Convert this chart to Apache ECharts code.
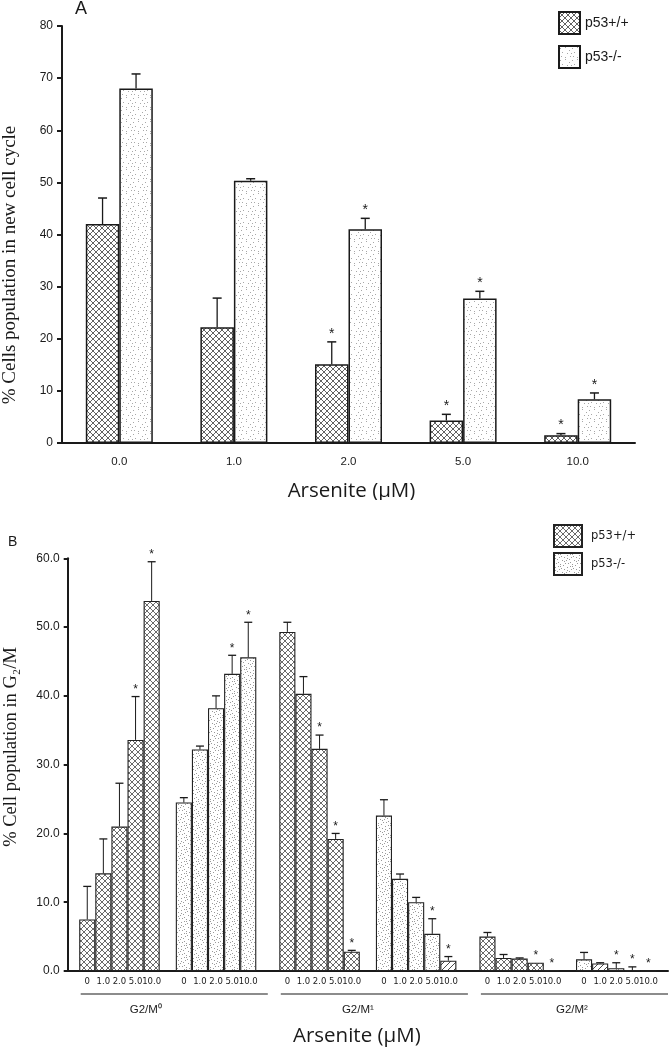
<!DOCTYPE html>
<html><head><meta charset="utf-8">
<script src="https://cdn.jsdelivr.net/npm/echarts@6/dist/echarts.min.js"></script>
<style>
html,body{margin:0;padding:0;background:#fff;}
#a{position:absolute;left:0;top:0;width:669px;height:500px;}
#b{position:absolute;left:0;top:500px;width:669px;height:550px;}
</style>
</head><body><div id="a"></div><div id="b"></div>
<script>
// ---------- Panel A data ----------
const seriesNames = ['p53+/+', 'p53-/-'];
const dosesA = ['0.0', '1.0', '2.0', '5.0', '10.0'];
const wtA = [42.0, 22.2, 15.1, 4.3, 1.5];
const wtErrA = [5.0, 5.6, 4.3, 1.2, 0.3];
const wtSigA = [0, 0, 1, 1, 1];
const nullA = [68.0, 50.3, 41.0, 27.7, 8.4];
const nullErrA = [2.8, 0.4, 2.1, 1.4, 1.2];
const nullSigA = [0, 0, 1, 1, 1];

// ---------- Panel B data ----------
const phasesB = ['G2/M\u2070', 'G2/M\u00B9', 'G2/M\u00B2'];
const dosesB = ['0', '1.0', '2.0', '5.0', '10.0'];
const wtB = [
  [7.5, 14.2, 21.0, 33.6, 53.8],
  [49.3, 40.3, 32.3, 19.2, 2.8],
  [5.0, 1.9, 1.8, 1.2, 0.1]
];
const wtErrB = [
  [4.8, 5.0, 6.3, 6.3, 5.7],
  [1.4, 2.5, 2.0, 0.8, 0.2],
  [0.6, 0.5, 0.1, 0, 0]
];
const wtSigB = [[0,0,0,1,1],[0,0,1,1,1],[0,0,0,1,1]];
const nullB = [
  [24.5, 32.2, 38.2, 43.2, 45.6],
  [22.6, 13.4, 10.0, 5.4, 1.5],
  [1.7, 1.1, 0.4, 0.1, 0]
];
const nullErrB = [
  [0.7, 0.5, 1.8, 2.7, 5.1],
  [2.3, 0.7, 0.7, 2.2, 0.6],
  [1.0, 0.1, 0.8, 0.5, 0]
];
const nullSigB = [[0,0,0,1,1],[0,0,0,1,1],[0,0,1,1,1]];
const diagHatched = [[1, 4], [2, 1]]; // [phase, dose] bars drawn with single hatch

// ---------- patterns ----------
function crossTile(size, color, lw) {
  const c = document.createElement('canvas'); c.width = c.height = size;
  const g = c.getContext('2d'); g.fillStyle = '#fff'; g.fillRect(0, 0, size, size);
  g.strokeStyle = color; g.lineWidth = lw; g.beginPath();
  g.moveTo(-1, -1); g.lineTo(size + 1, size + 1);
  g.moveTo(size + 1, -1); g.lineTo(-1, size + 1);
  g.stroke(); return c;
}
function diagTile(size, color, lw) {
  const c = document.createElement('canvas'); c.width = c.height = size;
  const g = c.getContext('2d'); g.fillStyle = '#fff'; g.fillRect(0, 0, size, size);
  g.strokeStyle = color; g.lineWidth = lw; g.beginPath();
  g.moveTo(size + 1, -1); g.lineTo(-1, size + 1);
  g.stroke(); return c;
}
function dotTile(size, pts, color) {
  const c = document.createElement('canvas'); c.width = c.height = size;
  const g = c.getContext('2d'); g.fillStyle = '#fff'; g.fillRect(0, 0, size, size);
  g.fillStyle = color; pts.forEach(p => g.fillRect(p[0], p[1], 1, 1)); return c;
}
const dotPts = [[1,2],[6,1],[10,4],[3,6],[8,7],[11,10],[2,10],[6,11],[0,7],[5,4],[9,0],[4,9]];
const crossA = { image: crossTile(6, '#3a3a3a', 0.8), repeat: 'repeat' };
const dotsA = { image: dotTile(12, dotPts.slice(0, 9), '#a8a8a8'), repeat: 'repeat' };
const crossB = { image: crossTile(6, '#3a3a3a', 0.75), repeat: 'repeat' };
const dotsB = { image: dotTile(12, dotPts.concat([[7,3],[1,5],[10,8],[4,1]]), '#9a9a9a'), repeat: 'repeat' };
const diagB = { image: diagTile(6, '#333', 0.9), repeat: 'repeat' };

const ink = '#1a1a1a';

// ---------- Panel A ----------
const barWA = 33.5, capA = 9;
function errSeriesA(vals, errs, sigs, side) {
  return {
    type: 'custom', z: 5, silent: true,
    data: vals.map((v, i) => [i, v, errs[i], sigs[i]]),
    renderItem: function (params, api) {
      const i = api.value(0), v = api.value(1), e = api.value(2), s = api.value(3);
      const b = api.coord([i, v]), t = api.coord([i, v + e]);
      const x = b[0] + side * barWA / 2;
      const ch = [];
      if (e > 0) {
        ch.push({ type: 'line', shape: { x1: x, y1: b[1], x2: x, y2: t[1] }, style: { stroke: ink, lineWidth: 1.3 } });
        ch.push({ type: 'line', shape: { x1: x - capA / 2, y1: t[1], x2: x + capA / 2, y2: t[1] }, style: { stroke: ink, lineWidth: 1.5 } });
      }
      if (s) ch.push({ type: 'text', x: x, y: t[1] - 1, style: { text: '*', fontSize: 14, fontFamily: 'Liberation Sans', fill: ink, align: 'center', verticalAlign: 'bottom' } });
      return { type: 'group', children: ch };
    }
  };
}
const chartA = echarts.init(document.getElementById('a'), null, { renderer: 'canvas' });
chartA.setOption({
  animation: false,
  backgroundColor: '#fff',
  title: { text: 'A', left: 75, top: 0, padding: 0, textStyle: { fontSize: 18, fontWeight: 'normal', fontFamily: 'Liberation Sans', color: ink } },
  legend: {
    data: seriesNames, orient: 'vertical', left: 558, top: 11, padding: 0,
    itemWidth: 21, itemHeight: 22, itemGap: 10, icon: 'rect', selectedMode: false,
    textStyle: { fontSize: 14, fontFamily: 'Liberation Sans', color: ink }
  },
  grid: { left: 62, top: 26, width: 573, height: 417, containLabel: false, outerBoundsMode: 'none' },
  xAxis: {
    type: 'category', data: dosesA,
    axisLine: { lineStyle: { color: ink, width: 2 } },
    axisTick: { alignWithLabel: false, length: 5, lineStyle: { color: ink, width: 2 } },
    axisLabel: { margin: 13, fontSize: 11.5, fontFamily: 'Liberation Sans', color: ink },
    name: 'Arsenite (\u03BCM)', nameLocation: 'middle', nameGap: 38,
    nameTextStyle: { fontSize: 20.5, fontFamily: 'Open Sans', color: ink, padding: [0, 0, 0, 6] }
  },
  yAxis: {
    type: 'value', min: 0, max: 80, interval: 10,
    axisLine: { show: true, lineStyle: { color: ink, width: 2 } },
    axisTick: { show: true, length: 5, lineStyle: { color: ink, width: 2 } },
    axisLabel: { margin: 9, fontSize: 12, fontFamily: 'Liberation Sans', color: ink },
    splitLine: { show: false }
  },
  graphic: [{
    type: 'text', x: 10, y: 265, rotation: Math.PI / 2,
    style: { text: '% Cells population in new cell cycle', fontSize: 19, fontFamily: 'Liberation Serif', fill: ink, align: 'center', verticalAlign: 'middle' }
  }],
  series: [
    { name: seriesNames[0], type: 'bar', data: wtA, barWidth: barWA, barGap: '0%',
      itemStyle: { color: crossA, borderColor: ink, borderWidth: 1.5 } },
    { name: seriesNames[1], type: 'bar', data: nullA, barWidth: barWA, barGap: '0%',
      itemStyle: { color: dotsA, borderColor: ink, borderWidth: 1.5 } },
    errSeriesA(wtA, wtErrA, wtSigA, -1),
    errSeriesA(nullA, nullErrA, nullSigA, 1)
  ]
});

// ---------- Panel B ----------
const barWB = 16.1, capB = 8;
function errSeriesB(vals, errs, sigs, slotOffset) {
  const data = [];
  vals.forEach((row, p) => row.forEach((v, d) => data.push([p, v, errs[p][d], sigs[p][d], slotOffset + d])));
  return {
    type: 'custom', z: 5, silent: true, data: data,
    renderItem: function (params, api) {
      const p = api.value(0), v = api.value(1), e = api.value(2), s = api.value(3), slot = api.value(4);
      const b = api.coord([p, v]), t = api.coord([p, v + e]);
      const x = b[0] + (slot - 5) * barWB;
      const ch = [];
      if (e > 0) {
        ch.push({ type: 'line', shape: { x1: x, y1: b[1], x2: x, y2: t[1] }, style: { stroke: ink, lineWidth: 1 } });
        ch.push({ type: 'line', shape: { x1: x - capB / 2, y1: t[1], x2: x + capB / 2, y2: t[1] }, style: { stroke: ink, lineWidth: 1.3 } });
      }
      if (s) ch.push({ type: 'text', x: x, y: t[1] - 1, style: { text: '*', fontSize: 12, fontFamily: 'Liberation Sans', fill: ink, align: 'center', verticalAlign: 'bottom' } });
      return { type: 'group', children: ch };
    }
  };
}
function barSeriesB(name, vals, d, fill) {
  return {
    name: name, type: 'bar', barWidth: barWB, barGap: '0%',
    data: vals.map((row, p) => {
      const hatched = diagHatched.some(h => h[0] === p && h[1] === d) && fill === dotsB;
      return hatched ? { value: row[d], itemStyle: { color: diagB } } : row[d];
    }),
    itemStyle: { color: fill, borderColor: '#222', borderWidth: 1.1 },
    label: { show: true, position: 'bottom', distance: 6, formatter: dosesB[d], fontSize: 8.5, fontFamily: 'DejaVu Sans', color: ink }
  };
}
const seriesB = [];
for (let d = 0; d < 5; d++) seriesB.push(barSeriesB(seriesNames[0], wtB, d, crossB));
seriesB.push({ name: 'spacer', type: 'bar', barWidth: barWB, barGap: '0%', data: phasesB.map(() => '-') });
for (let d = 0; d < 5; d++) seriesB.push(barSeriesB(seriesNames[1], nullB, d, dotsB));
seriesB.push(errSeriesB(wtB, wtErrB, wtSigB, 0));
seriesB.push(errSeriesB(nullB, nullErrB, nullSigB, 6));

const chartB = echarts.init(document.getElementById('b'), null, { renderer: 'canvas' });
chartB.setOption({
  animation: false,
  backgroundColor: '#fff',
  title: { text: 'B', left: 8, top: 35, padding: 0, textStyle: { fontSize: 14, fontWeight: 'normal', fontFamily: 'Liberation Sans', color: ink } },
  legend: {
    data: seriesNames, orient: 'vertical', left: 553, top: 24, padding: 0,
    itemWidth: 28, itemHeight: 22, itemGap: 4, icon: 'rect', selectedMode: false,
    textStyle: { fontSize: 11.5, fontFamily: 'DejaVu Sans', color: ink, padding: [0, 0, 0, 4] }
  },
  grid: { left: 67.7, top: 58.3, width: 600.3, height: 412.7, containLabel: false, outerBoundsMode: 'none' },
  xAxis: {
    type: 'category', data: phasesB,
    axisLine: { lineStyle: { color: ink, width: 2 } },
    axisTick: { alignWithLabel: false, length: 4, lineStyle: { color: ink, width: 2 } },
    axisLabel: { show: false },
    name: 'Arsenite (\u03BCM)', nameLocation: 'middle', nameGap: 55,
    nameTextStyle: { fontSize: 20.5, fontFamily: 'Open Sans', color: ink, padding: [0, 22, 0, 0] }
  },
  yAxis: {
    type: 'value', min: 0, max: 60, interval: 10,
    axisLine: { show: true, lineStyle: { color: ink, width: 2 } },
    axisTick: { show: true, length: 4, lineStyle: { color: ink, width: 2 } },
    axisLabel: { margin: 8, fontSize: 12, fontFamily: 'Liberation Sans', color: ink, formatter: v => v.toFixed(1) },
    splitLine: { show: false }
  },
  series: seriesB
});

// group underlines and labels, placed through the category scale
(function () {
  const labelShift = [-22, -10, 4];
  const c0 = chartB.convertToPixel({ xAxisIndex: 0 }, 0);
  const c1 = chartB.convertToPixel({ xAxisIndex: 0 }, 1);
  const band = c1 - c0;
  const axisY = chartB.convertToPixel({ yAxisIndex: 0 }, 0);
  const g = [];
  phasesB.forEach((name, i) => {
    const cx = chartB.convertToPixel({ xAxisIndex: 0 }, i);
    g.push({ type: 'line', shape: { x1: cx - band / 2 + 13, y1: axisY + 23, x2: cx + band / 2, y2: axisY + 23 }, style: { stroke: ink, lineWidth: 1.2 } });
    g.push({ type: 'text', x: cx + labelShift[i], y: axisY + 39, style: { text: name, fontSize: 11.5, fontFamily: 'Liberation Sans', fill: ink, align: 'center', verticalAlign: 'middle' } });
  });
  g.push({ type: 'text', x: 11, y: 247, rotation: Math.PI / 2,
    style: { text: '% Cell population in G\u2082/M', fontSize: 18.5, fontFamily: 'Liberation Serif', fill: ink, align: 'center', verticalAlign: 'middle' } });
  chartB.setOption({ graphic: g });
})();
</script>
</body></html>
